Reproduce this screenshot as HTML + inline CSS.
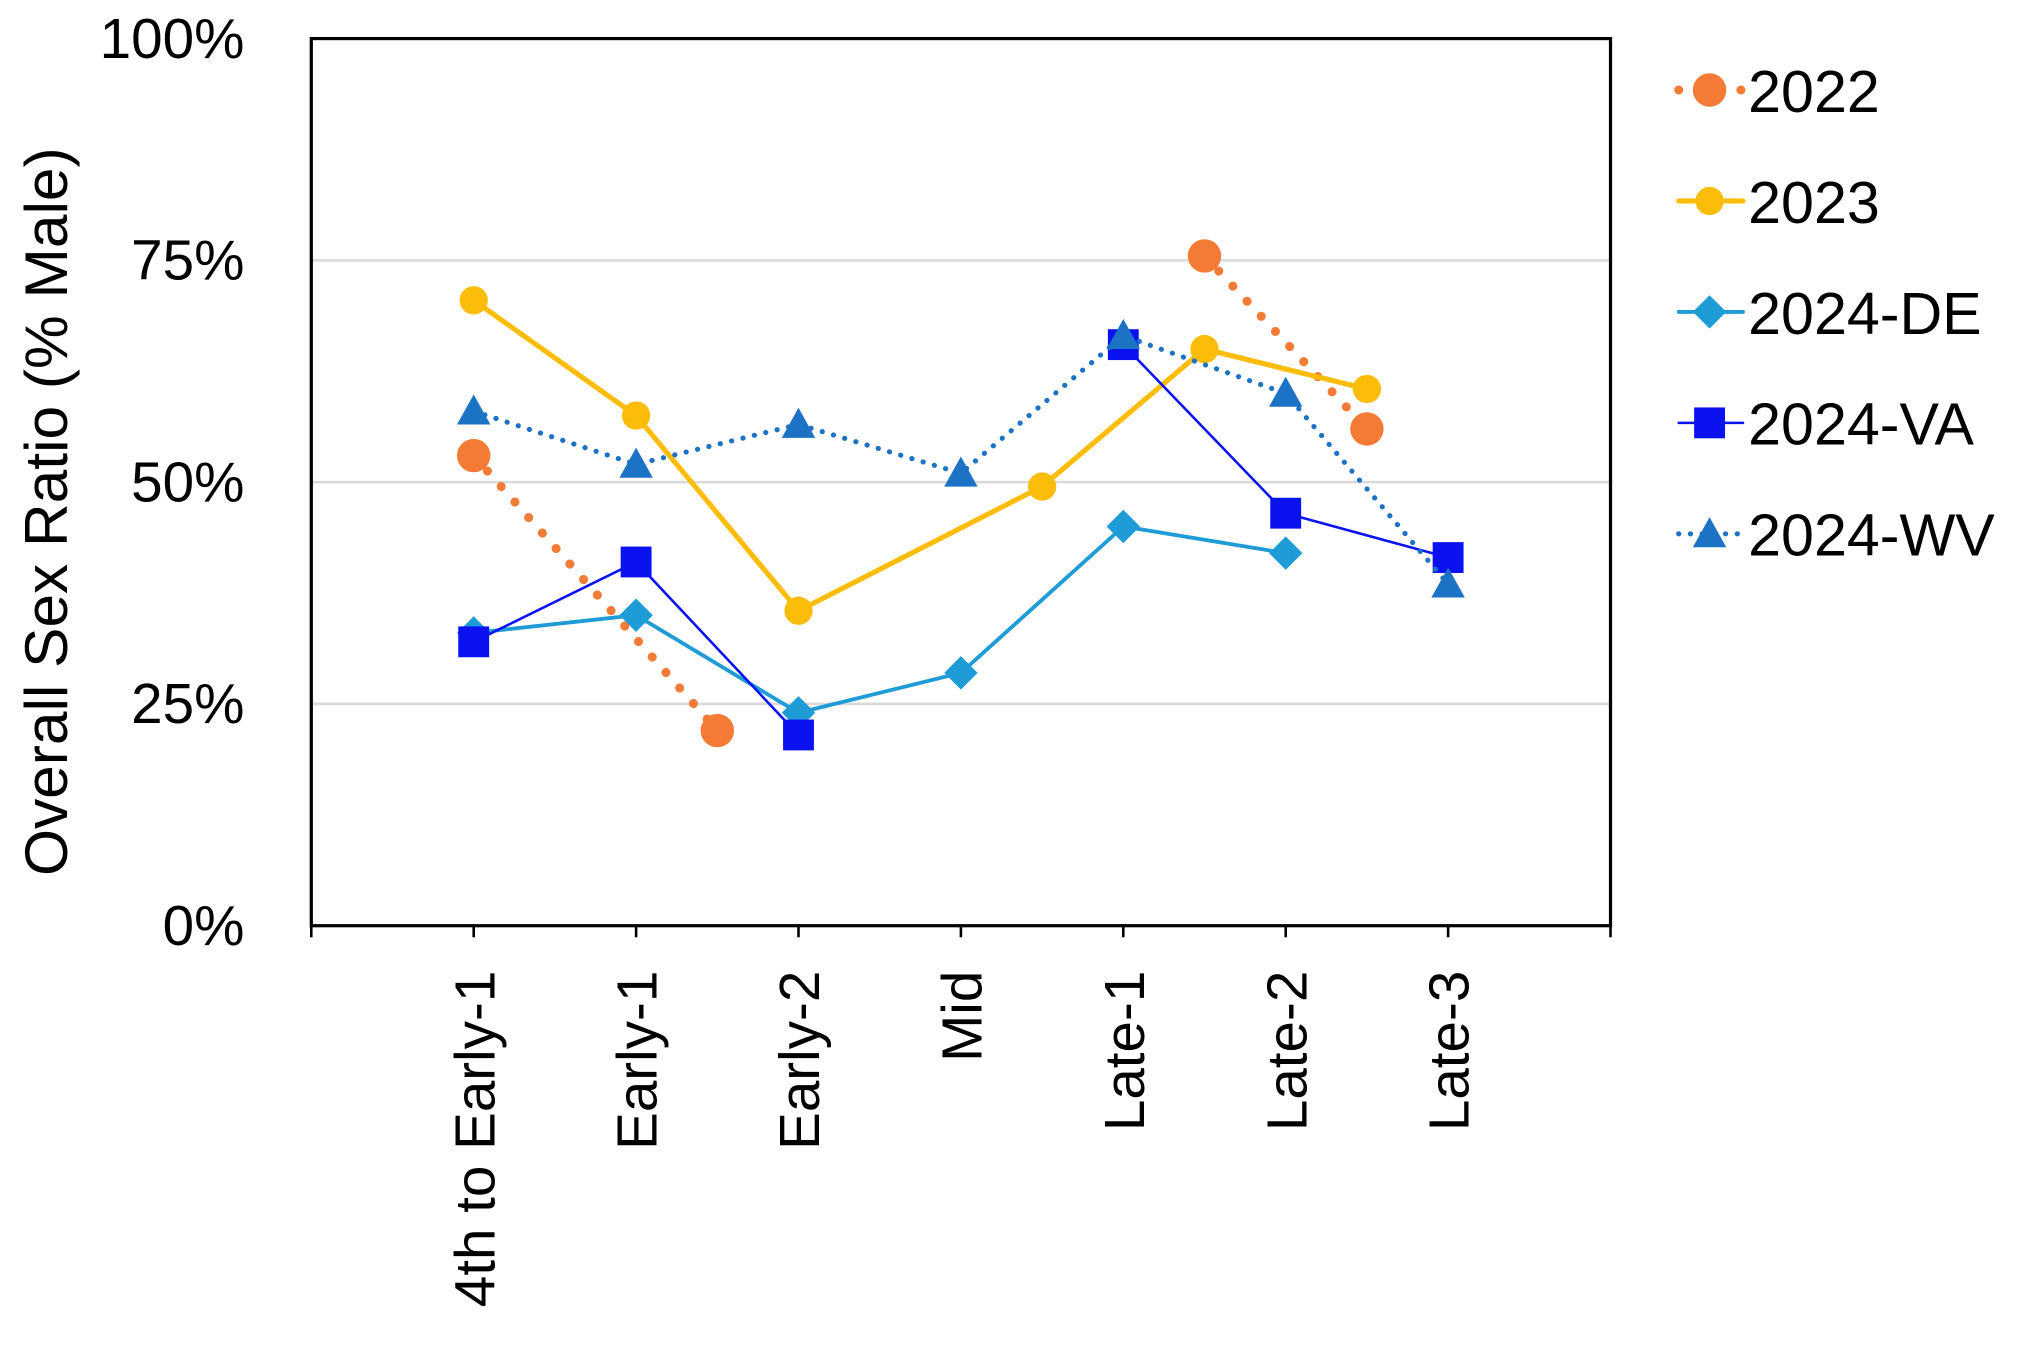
<!DOCTYPE html>
<html><head><meta charset="utf-8"><style>html,body{margin:0;padding:0;background:#fff}svg{display:block}text{font-family:"Liberation Sans",sans-serif;fill:#000}</style></head>
<body>
<svg width="2017" height="1359" viewBox="0 0 1568 1057" preserveAspectRatio="none" xmlns="http://www.w3.org/2000/svg">
<g id="grid"></g><g id="axes"></g><g id="series"></g><g id="legend"></g>
</svg>
<script>
const categories=["4th to Early-1","Early-1","Early-2","Mid","Late-1","Late-2","Late-3"];
const yTicks=[0,25,50,75,100];
const yTickLabels=["0%","25%","50%","75%","100%"];
const s2022x=[0,1.5,null,4.5,5.5];
const s2022y=[53,22,null,75.5,56];
const s2023x=[0,1,2,3.5,4.5,5.5];
const s2023y=[70.5,57.5,35.5,49.5,65,60.5];
const sDEx=[0,1,2,3,4,5];
const sDEy=[33,35,24,28.5,45,42];
const sVAx=[0,1,2,null,4,5,6];
const sVAy=[32,41,21.5,null,65.5,46.5,41.5];
const sWVx=[0,1,2,3,4,5,6];
const sWVy=[58,52,56.5,51,66.5,60,38.5];
const L=242,R=1252,T=30,B=720;
const X=i=>L+(i+1)*(R-L)/8;
const Y=v=>B-(v/100)*(B-T);
const NS="http://www.w3.org/2000/svg";
function mk(tag,attrs,parent){const e=document.createElementNS(NS,tag);for(const k in attrs)e.setAttribute(k,attrs[k]);parent.appendChild(e);return e;}
const grid=document.getElementById('grid'),axes=document.getElementById('axes'),ser=document.getElementById('series'),leg=document.getElementById('legend');
yTicks.forEach((t,i)=>{
 if(t>0&&t<100){const g=mk('line',{x1:L,x2:R,y1:Y(t),y2:Y(t),stroke:'#d9d9d9','stroke-width':2},grid);
 
 }
 const tx=mk('text',{x:190,y:Y(t)+15,'text-anchor':'end','font-size':44},axes);tx.textContent=yTickLabels[i];
 
 
});
const fr=mk('rect',{x:L,y:T,width:R-L,height:B-T,fill:'none',stroke:'#000','stroke-width':2.5},axes);


for(let i=0;i<=8;i++){const tk=mk('line',{x1:L+i*(R-L)/8,x2:L+i*(R-L)/8,y1:B,y2:B+9,stroke:'#000','stroke-width':2},axes);
 
 }
categories.forEach((c,i)=>{const tx=mk('text',{x:0,y:0,'text-anchor':'end','font-size':44,textLength:0,transform:`translate(${X(i)+16},755) rotate(-90)`},axes);tx.removeAttribute('textLength');tx.textContent=c;
 
 });
const yt=mk('text',{x:0,y:0,'text-anchor':'middle','font-size':47,transform:'translate(52,398) rotate(-90)'},axes);yt.textContent='Overall Sex Ratio (% Male)';


function marker(type,x,y,color,p,sz){let e;
 if(type==='circle')e=mk('circle',{cx:x,cy:y,r:sz,fill:color},p);
 else if(type==='diamond')e=mk('polygon',{points:`${x},${y-sz} ${x+sz},${y} ${x},${y+sz} ${x-sz},${y}`,fill:color},p);
 else if(type==='square')e=mk('rect',{x:x-sz,y:y-sz,width:2*sz,height:2*sz,fill:color},p);
 else e=mk('polygon',{points:`${x},${y-sz} ${x+sz},${y+sz*0.8} ${x-sz},${y+sz*0.8}`,fill:color},p);
 return e;}
const series=[
 {name:'2022',xs:s2022x,ys:s2022y,color:'#f47b35',w:7,dash:'0.1 16',mk:'circle',sz:13},
 {name:'2023',xs:s2023x,ys:s2023y,color:'#fbbd0a',w:4,dash:'',mk:'circle',sz:11},
 {name:'2024-DE',xs:sDEx,ys:sDEy,color:'#1f9bd6',w:3,dash:'',mk:'diamond',sz:13},
 {name:'2024-VA',xs:sVAx,ys:sVAy,color:'#0b12f0',w:2,dash:'',mk:'square',sz:12},
 {name:'2024-WV',xs:sWVx,ys:sWVy,color:'#1c72c4',w:4,dash:'0.1 9',mk:'tri',sz:13}
];
series.forEach((s,si)=>{
 const g=mk('g',{},ser);
 
 
 let segs=[],cur=[];
 s.xs.forEach((x,i)=>{if(x===null||s.ys[i]===null){if(cur.length)segs.push(cur);cur=[];}else cur.push([X(x),Y(s.ys[i])]);});
 if(cur.length)segs.push(cur);
 segs.forEach(sg=>{if(sg.length<2)return;const pl=mk('polyline',{points:sg.map(p=>p.join(',')).join(' '),fill:'none',stroke:s.color,'stroke-width':s.w,'stroke-linecap':'round','stroke-dasharray':s.dash},g);
  
  });
 s.xs.forEach((x,i)=>{if(x===null)return;const m=marker(s.mk,X(x),Y(s.ys[i]),s.color,g,s.sz);
  
  });
 const ly=70+si*86.3;
 const lg=mk('g',{},leg);
 
 
 mk('line',{x1:1305,x2:1355,y1:ly,y2:ly,stroke:s.color,'stroke-width':s.w,'stroke-linecap':'round','stroke-dasharray':s.dash},lg);
 marker(s.mk,1329,ly,s.color,lg,s.sz);
 const t=mk('text',{x:1359,y:ly+17,'font-size':46},lg);t.textContent=s.name;
});
</script>
</body></html>
